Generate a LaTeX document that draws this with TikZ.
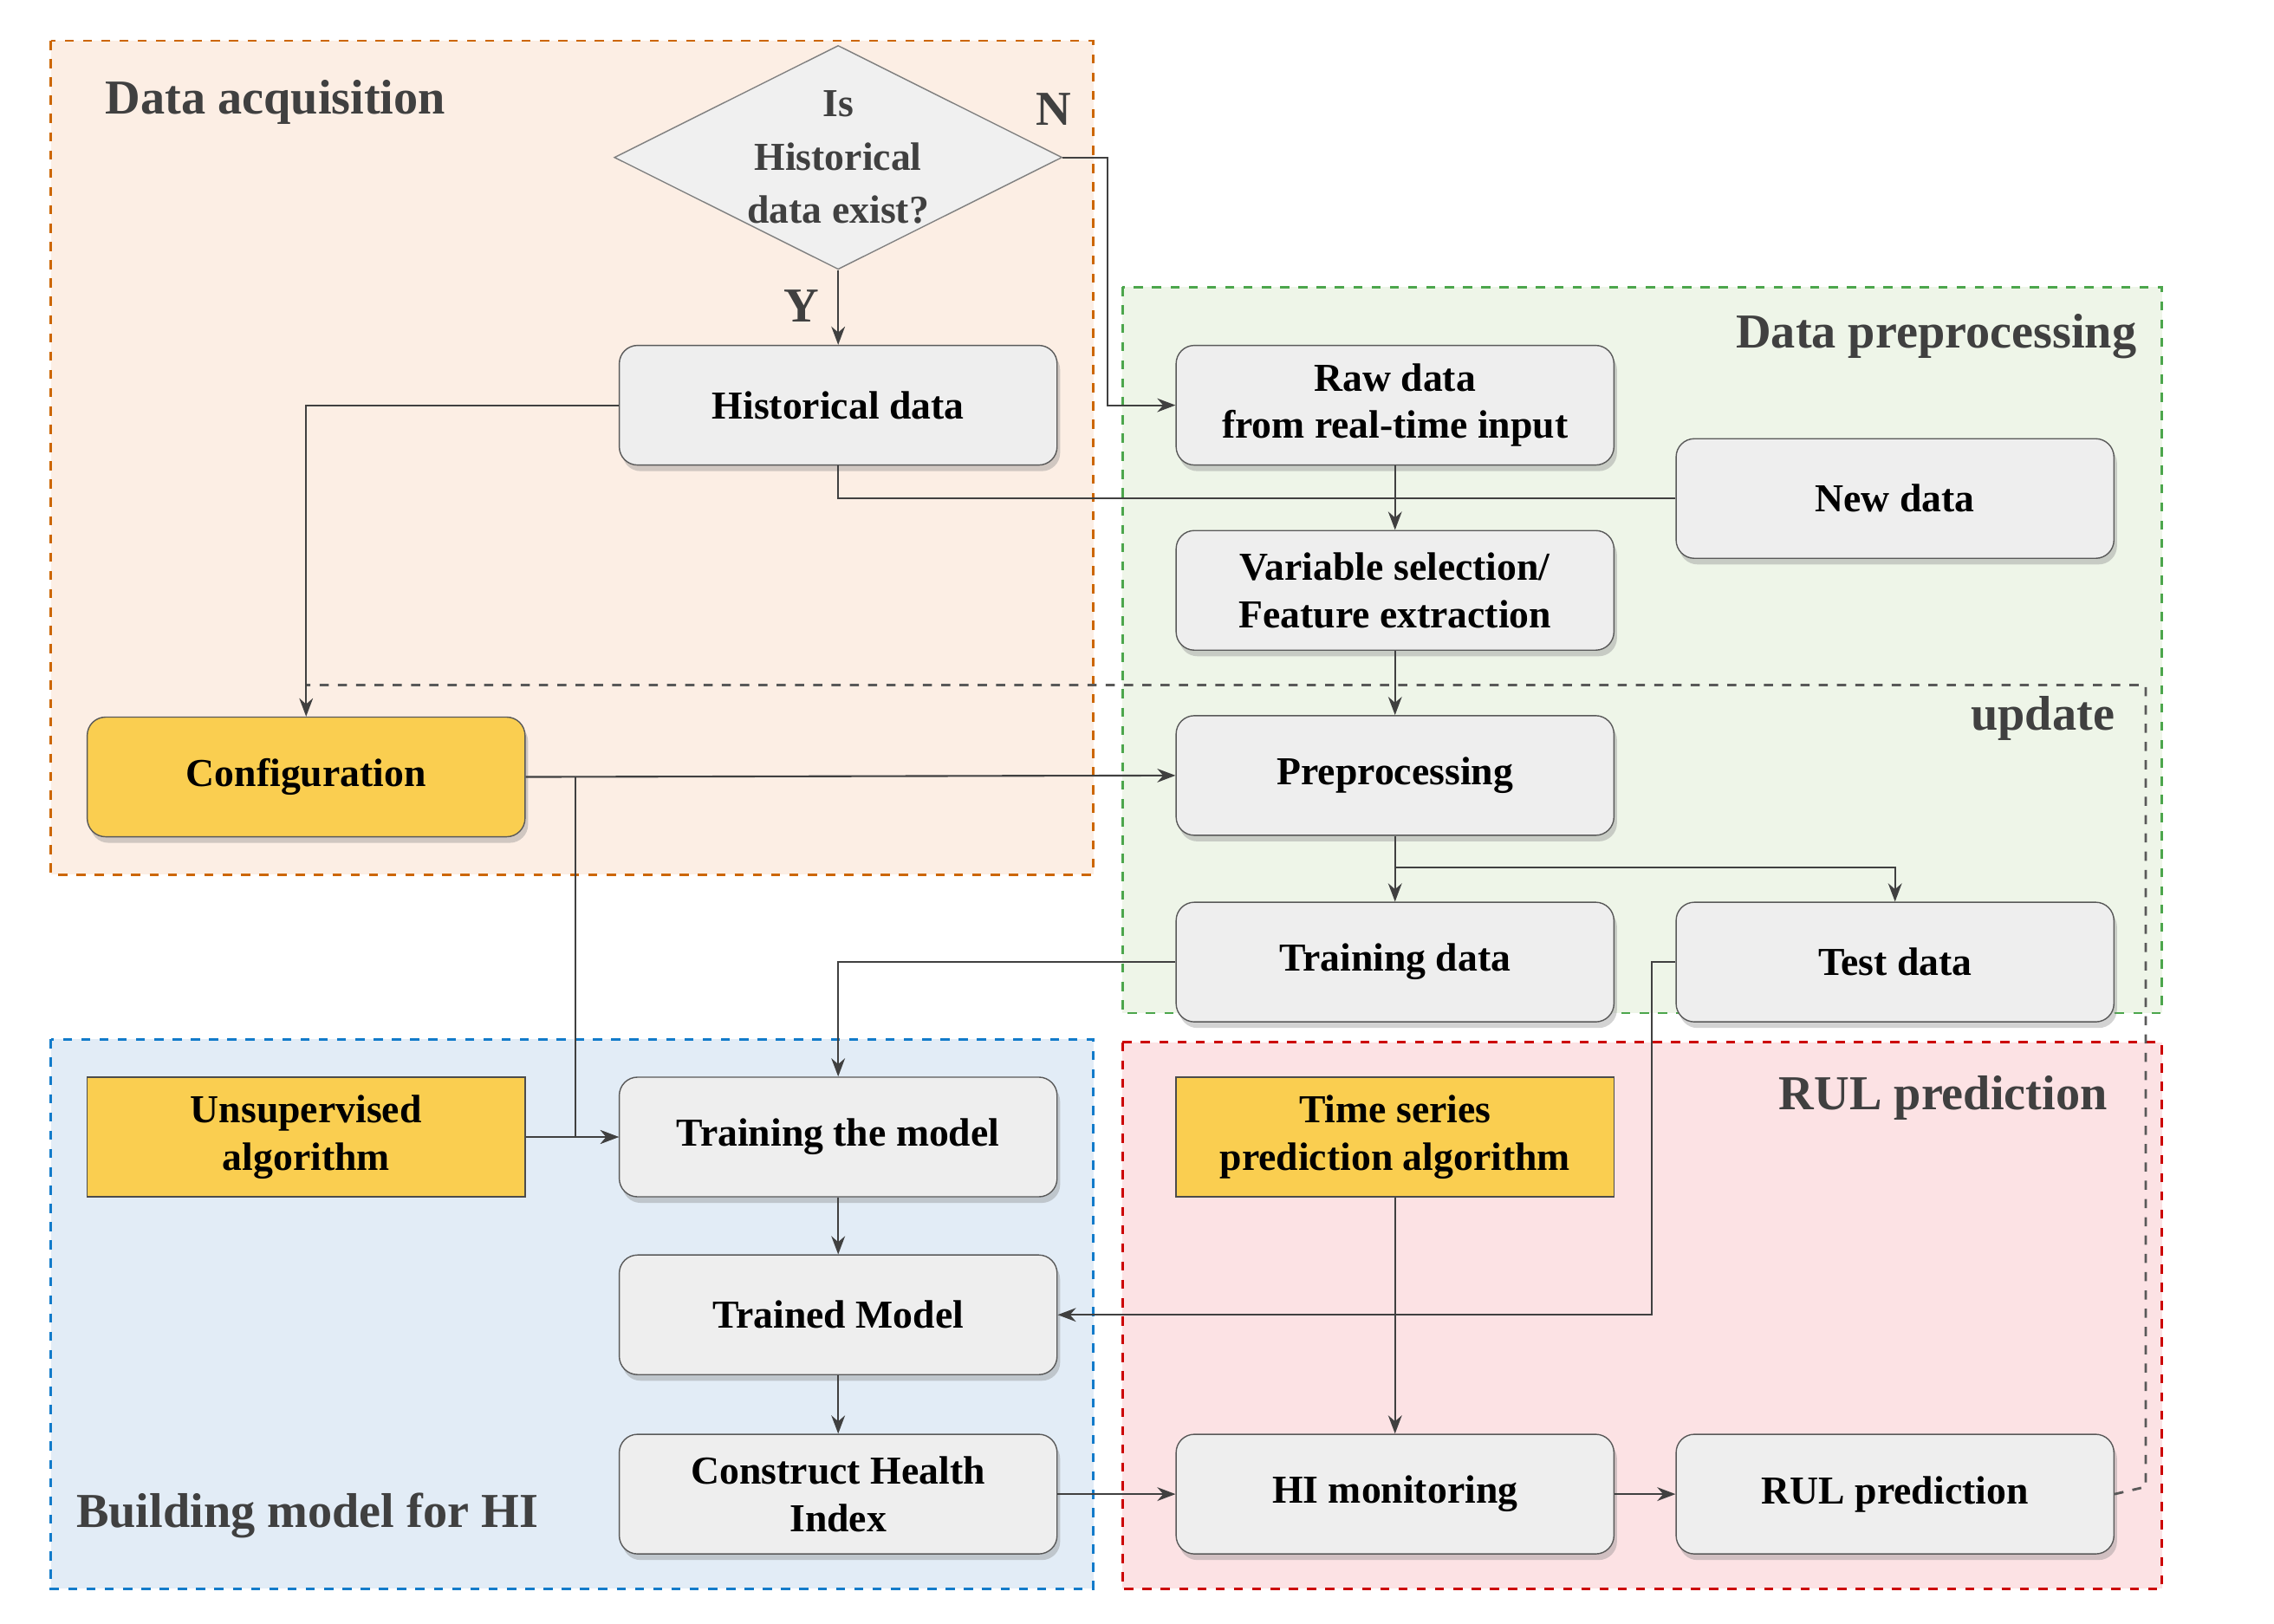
\documentclass[tikz,border=0pt]{standalone}
\usepackage{fontspec}
\setmainfont{Liberation Serif}
\usetikzlibrary{shapes.geometric,shadows,arrows.meta}
\definecolor{acqfill}{RGB}{252,238,228}
\definecolor{prefill}{RGB}{236,244,230}
\definecolor{hifill}{RGB}{226,236,246}
\definecolor{rulfill}{RGB}{252,226,228}
\definecolor{yel}{RGB}{250,206,80}
\begin{document}
\begin{tikzpicture}[x=0.01682cm,y=-0.01682cm,
    font=\fontsize{13}{15.5}\selectfont\bfseries,
    box/.style={draw=gray!70!black, fill=gray!13, rounded corners=6pt, minimum width=5.05cm,
        minimum height=1.38cm, align=center, drop shadow={shadow xshift=1pt,shadow yshift=-2pt,opacity=.35}},
    algo/.style={draw=gray!60!black, fill=yel, minimum width=5.05cm, minimum height=1.38cm, align=center},
    conf/.style={box, fill=yel},
    region/.style={dashed, thick},
    arr/.style={-{Stealth[length=6pt]}, draw=black!75, semithick}]
    \useasboundingbox (0,0) rectangle (1560,1114);
    % regions
    \filldraw [region, draw=orange!80!black, fill=acqfill] (35,28) rectangle (750,600);
    \filldraw [region, draw=green!50!black!70, fill=prefill, fill opacity=.9] (770,197) rectangle (1483,695);
    \filldraw [region, draw=cyan!60!blue, fill=hifill] (35,713) rectangle (750,1090);
    \filldraw [region, draw=red!80!black, fill=rulfill] (770,715) rectangle (1483,1090);
    \node [anchor=west, text=black!75, font=\fontsize{16}{18}\selectfont\bfseries] at (65,70) {Data acquisition};
    \node [anchor=east, text=black!75, font=\fontsize{16}{18}\selectfont\bfseries] at (1473,231) {Data preprocessing};
    \node [anchor=west, text=black!75, font=\fontsize{16}{18}\selectfont\bfseries] at (45,1040) {Building model for HI};
    \node [anchor=east, text=black!75, font=\fontsize{16}{18}\selectfont\bfseries] at (1453,753) {RUL prediction};
    \node [anchor=east, text=black!75, font=\fontsize{16}{18}\selectfont\bfseries] at (1458,493) {update};
    % nodes
    \node [diamond, draw=gray, fill=gray!12, aspect=2, minimum width=5.05cm, minimum height=2.55cm, align=center,
        inner sep=0pt, text=black!75] (exist) at (575,108) {Is\\[2pt]Historical\\[2pt]data exist?};
    \node [box] (hist) at (575,278) {Historical data};
    \node [box] (raw) at (957,278) {Raw data\\from real-time input};
    \node [box] (new) at (1300,342) {New data};
    \node [box] (varsel) at (957,405) {Variable selection/\\Feature extraction};
    \node [conf] (config) at (210,533) {Configuration};
    \node [box] (prep) at (957,532) {Preprocessing};
    \node [box] (train) at (957,660) {Training data};
    \node [box] (test) at (1300,660) {Test data};
    \node [algo] (unsup) at (210,780) {Unsupervised\\algorithm};
    \node [box] (trainm) at (575,780) {Training the model};
    \node [algo] (tsalgo) at (957,780) {Time series\\prediction algorithm};
    \node [box] (trained) at (575,902) {Trained Model};
    \node [box] (chi) at (575,1025) {Construct Health\\Index};
    \node [box] (himon) at (957,1025) {HI monitoring};
    \node [box] (rul) at (1300,1025) {RUL prediction};
    % update loop
    \draw [dashed, thick, draw=black!65] (rul.east) -- (1472,1020) -- (1472,470) -- (210,470);
    % connectors
    \draw [arr] (exist.east) -- (760,108) |- (raw.west);
    \node [font=\fontsize{16}{18}\selectfont\bfseries, text=black!75] at (723,75) {N};
    \draw [arr] (exist.south) -- (hist.north);
    \node [font=\fontsize{16}{18}\selectfont\bfseries, text=black!75] at (550,210) {Y};
    \draw [arr] (hist.west) -| (config.north);
    \draw [draw=black!75, semithick] (hist.south) |- (957,342);
    \draw [draw=black!75, semithick] (new.west) -- (957,342);
    \draw [arr] (raw.south) -- (varsel.north);
    \draw [arr] (varsel.south) -- (prep.north);
    \draw [arr] (config.east) -- (prep.west);
    \draw [arr] (395,533) |- (trainm.west);
    \draw [arr] (unsup.east) -- (trainm.west);
    \draw [arr] (prep.south) -- (train.north);
    \draw [arr] (957,595) -| (test.north);
    \draw [arr] (train.west) -| (trainm.north);
    \draw [arr] (test.west) -- (1133,660) |- (trained.east);
    \draw [arr] (trainm.south) -- (trained.north);
    \draw [arr] (trained.south) -- (chi.north);
    \draw [arr] (tsalgo.south) -- (himon.north);
    \draw [arr] (chi.east) -- (himon.west);
    \draw [arr] (himon.east) -- (rul.west);
\end{tikzpicture}
\end{document}
